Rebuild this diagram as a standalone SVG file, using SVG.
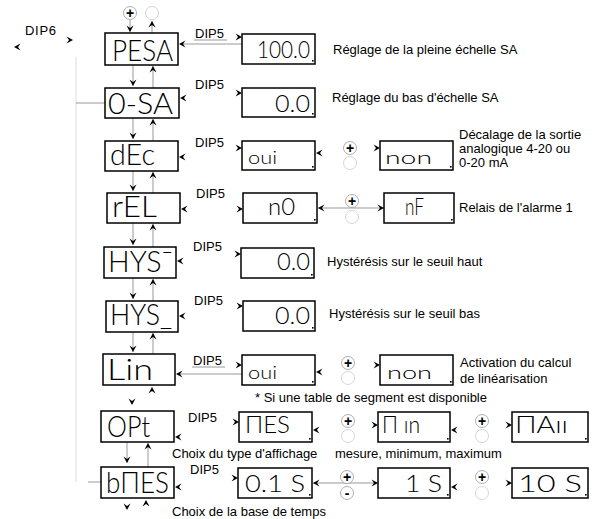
<svg xmlns="http://www.w3.org/2000/svg" xmlns:xlink="http://www.w3.org/1999/xlink" width="595" height="519" viewBox="0 0 595 519">
<style>
.box{fill:#fff;stroke:#000;stroke-width:1.5}
.seg{font-family:Lato,"DejaVu Sans",sans-serif;font-weight:300;fill:#000}
.L{font-size:29px}
.V{font-size:23px}
.v{font-size:17px}
.lbl{font-family:"Liberation Sans",Arial,sans-serif;font-size:13px;fill:#000}
.ln{stroke:#999;stroke-width:1;fill:none}
.fl{stroke:#ddd;stroke-width:1;fill:none}
.pc{fill:#fff;stroke:#999;stroke-width:0.8}
.ec{fill:#fff;stroke:#ccc;stroke-width:0.8}
.sym{font-family:"Liberation Sans",Arial,sans-serif;font-size:14px;font-weight:bold;text-anchor:middle;fill:#000}
.dot{fill:#000}
</style>
<defs>
<path id="ah" d="M0,0 L-6.5,-3.5 L-4,0 L-6.5,3.5 Z" fill="#000"/>
</defs>

<g id="connectors">
<path class="fl" d="M76,57 V482"/>
<path class="ln" d="M76,103 H105" stroke="#bbb"/>
<path class="ln" d="M88,482 H101"/>
<use xlink:href="#ah" transform="translate(14,47) rotate(180)"/>
<use xlink:href="#ah" transform="translate(73,40)"/>
<path class="ln" d="M130,20 V32"/>
<use xlink:href="#ah" transform="translate(130,32) rotate(90)"/>
<path class="ln" d="M152,33 V21"/>
<use xlink:href="#ah" transform="translate(152,21) rotate(-90)"/>
<path class="ln" d="M133,65 V86 M153,88 V66"/>
<use xlink:href="#ah" transform="translate(133,86) rotate(90)"/>
<use xlink:href="#ah" transform="translate(153,66) rotate(-90)"/>
<path class="ln" d="M133,118 V139 M153,141 V119"/>
<use xlink:href="#ah" transform="translate(133,139) rotate(90)"/>
<use xlink:href="#ah" transform="translate(153,119) rotate(-90)"/>
<path class="ln" d="M133,171 V191 M153,193 V172"/>
<use xlink:href="#ah" transform="translate(133,191) rotate(90)"/>
<use xlink:href="#ah" transform="translate(153,172) rotate(-90)"/>
<path class="ln" d="M133,223 V245 M153,247 V224"/>
<use xlink:href="#ah" transform="translate(133,245) rotate(90)"/>
<use xlink:href="#ah" transform="translate(153,224) rotate(-90)"/>
<path class="ln" d="M133,278 V299 M153,301 V279"/>
<use xlink:href="#ah" transform="translate(133,299) rotate(90)"/>
<use xlink:href="#ah" transform="translate(153,279) rotate(-90)"/>
<path class="ln" d="M133,332 V352 M153,354 V333"/>
<use xlink:href="#ah" transform="translate(133,352) rotate(90)"/>
<use xlink:href="#ah" transform="translate(153,333) rotate(-90)"/>
<use xlink:href="#ah" transform="translate(132,405) rotate(90)"/>
<use xlink:href="#ah" transform="translate(152,387) rotate(-90)"/>
<path class="ln" d="M127,442 V463 M148,467 V443"/>
<use xlink:href="#ah" transform="translate(127,463) rotate(90)"/>
<use xlink:href="#ah" transform="translate(148,443) rotate(-90)"/>
<use xlink:href="#ah" transform="translate(127,510) rotate(90)"/>
<use xlink:href="#ah" transform="translate(146,500) rotate(-90)"/>
<path class="ln" d="M180,44 H242 M194,40 H227"/>
<use xlink:href="#ah" transform="translate(179,44) rotate(180)"/>
<use xlink:href="#ah" transform="translate(242,37)"/>
<use xlink:href="#ah" transform="translate(180,98) rotate(180)"/>
<use xlink:href="#ah" transform="translate(242,93)"/>
<use xlink:href="#ah" transform="translate(179,157) rotate(180)"/>
<use xlink:href="#ah" transform="translate(242,148)"/>
<use xlink:href="#ah" transform="translate(181,209) rotate(180)"/>
<use xlink:href="#ah" transform="translate(243,209)"/>
<use xlink:href="#ah" transform="translate(177,261) rotate(180)"/>
<use xlink:href="#ah" transform="translate(241,254)"/>
<use xlink:href="#ah" transform="translate(179,316) rotate(180)"/>
<use xlink:href="#ah" transform="translate(243,306)"/>
<path class="ln" d="M177,374 H242 M192,367 H225"/>
<use xlink:href="#ah" transform="translate(176,374) rotate(180)"/>
<use xlink:href="#ah" transform="translate(242,365)"/>
<use xlink:href="#ah" transform="translate(175,437) rotate(180)"/>
<use xlink:href="#ah" transform="translate(239,422)"/>
<use xlink:href="#ah" transform="translate(175,487) rotate(180)"/>
<use xlink:href="#ah" transform="translate(238,478)"/>
<use xlink:href="#ah" transform="translate(316,153) rotate(180)"/>
<use xlink:href="#ah" transform="translate(380,148)"/>
<path class="ln" d="M318,208 H384"/>
<use xlink:href="#ah" transform="translate(318,208) rotate(180)"/>
<use xlink:href="#ah" transform="translate(384,208)"/>
<use xlink:href="#ah" transform="translate(316,372) rotate(180)"/>
<use xlink:href="#ah" transform="translate(380,365)"/>
<use xlink:href="#ah" transform="translate(313,430) rotate(180)"/>
<use xlink:href="#ah" transform="translate(378,425)"/>
<use xlink:href="#ah" transform="translate(451,430) rotate(180)"/>
<use xlink:href="#ah" transform="translate(512,425)"/>
<path class="ln" d="M313,483 H378"/>
<use xlink:href="#ah" transform="translate(313,483) rotate(180)"/>
<use xlink:href="#ah" transform="translate(378,483)"/>
<use xlink:href="#ah" transform="translate(451,487) rotate(180)"/>
<use xlink:href="#ah" transform="translate(512,483)"/>
</g>

<g id="buttons">
<circle class="pc" cx="130" cy="13" r="6.5"/><text class="sym" x="130" y="18">+</text>
<circle class="ec" cx="152" cy="13" r="6.5"/>
<circle class="pc" cx="350" cy="148" r="6.5"/><text class="sym" x="350" y="153">+</text>
<circle class="ec" cx="350" cy="163" r="6.5"/>
<circle class="ec" cx="352" cy="217" r="6.5"/>
<circle class="pc" cx="352" cy="201" r="6.5"/><text class="sym" x="352" y="206">+</text>
<circle class="pc" cx="348" cy="363" r="6.5"/><text class="sym" x="348" y="368">+</text>
<circle class="ec" cx="348" cy="378" r="6.5"/>
<circle class="pc" cx="348" cy="421" r="6.5"/><text class="sym" x="348" y="426">+</text>
<circle class="ec" cx="348" cy="436" r="6.5"/>
<circle class="pc" cx="482" cy="421" r="6.5"/><text class="sym" x="482" y="426">+</text>
<circle class="ec" cx="482" cy="436" r="6.5"/>
<circle class="pc" cx="347" cy="477" r="6.5"/><text class="sym" x="347" y="482">+</text>
<circle class="pc" cx="347" cy="493" r="6.5"/><text class="sym" x="347" y="498">-</text>
<circle class="pc" cx="482" cy="477" r="6.5"/><text class="sym" x="482" y="482">+</text>
<circle class="ec" cx="482" cy="493" r="6.5"/>
</g>

<g id="labels">
<text class="lbl" x="25" y="35" textLength="31">DIP6</text>
<text class="lbl" x="195" y="38">DIP5</text>
<text class="lbl" x="195" y="89">DIP5</text>
<text class="lbl" x="195" y="147">DIP5</text>
<text class="lbl" x="196" y="198">DIP5</text>
<text class="lbl" x="193" y="251">DIP5</text>
<text class="lbl" x="194" y="305">DIP5</text>
<text class="lbl" x="193" y="365">DIP5</text>
<text class="lbl" x="188" y="422">DIP5</text>
<text class="lbl" x="190" y="474">DIP5</text>
<text class="lbl" x="333" y="54">Réglage de la pleine échelle SA</text>
<text class="lbl" x="332" y="102">Réglage du bas d'échelle SA</text>
<text class="lbl" x="459" y="139">Décalage de la sortie</text>
<text class="lbl" x="459" y="153">analogique 4-20 ou</text>
<text class="lbl" x="459" y="167">0-20 mA</text>
<text class="lbl" x="459" y="212">Relais de l'alarme 1</text>
<text class="lbl" x="327" y="266">Hystérésis sur le seuil haut</text>
<text class="lbl" x="329" y="318">Hystérésis sur le seuil bas</text>
<text class="lbl" x="460" y="367">Activation du calcul</text>
<text class="lbl" x="460" y="383">de linéarisation</text>
<text class="lbl" x="255" y="402">* Si une table de segment est disponible</text>
<text class="lbl" x="172" y="458">Choix du type d'affichage</text>
<text class="lbl" x="335" y="458">mesure, minimum, maximum</text>
<text class="lbl" x="172" y="516">Choix de la base de temps</text>
</g>

<g id="PESA"><rect class="box" x="105" y="33" width="73" height="32"/><text class="seg L" x="112" y="61" textLength="61" lengthAdjust="spacingAndGlyphs">PESA</text></g>
<g id="O-SA"><rect class="box" x="105" y="88" width="74" height="30"/><text class="seg L" x="108" y="114" textLength="65" lengthAdjust="spacingAndGlyphs">0-SA</text></g>
<g id="dEc"><rect class="box" x="105" y="141" width="73" height="30"/><text class="seg L" x="110" y="165" textLength="45" lengthAdjust="spacingAndGlyphs">dEc</text></g>
<g id="rEL"><rect class="box" x="107" y="193" width="73" height="30"/><text class="seg L" x="112" y="217" textLength="45" lengthAdjust="spacingAndGlyphs">rEL</text></g>
<g id="HYS-haut"><rect class="box" x="104" y="247" width="72" height="31"/><text class="seg L" x="108" y="272" textLength="65" lengthAdjust="spacingAndGlyphs">HYS¯</text></g>
<g id="HYS-bas"><rect class="box" x="106" y="301" width="72" height="31"/><text class="seg L" x="110" y="325" textLength="62" lengthAdjust="spacingAndGlyphs">HYS_</text></g>
<g id="Lin"><rect class="box" x="103" y="354" width="72" height="31"/><text class="seg L" x="107" y="380" textLength="46" lengthAdjust="spacingAndGlyphs">Lin</text></g>
<g id="OPt"><rect class="box" x="101" y="411" width="73" height="31"/><text class="seg L" x="107" y="437" textLength="43" lengthAdjust="spacingAndGlyphs">OPt</text></g>
<g id="bMES"><rect class="box" x="101" y="467" width="73" height="31"/><text class="seg L" x="106" y="493" textLength="63" lengthAdjust="spacingAndGlyphs">bΠES</text></g>

<g id="v-1000"><rect class="box" x="242" y="34" width="73" height="30"/><text class="seg V" x="257" y="58" textLength="53" lengthAdjust="spacingAndGlyphs">100.0</text><rect class="dot" x="312" y="60" width="1.6" height="1.6"/></g>
<g id="v-0SA"><rect class="box" x="242" y="88" width="73" height="29"/><text class="seg V" x="275" y="112" textLength="35" lengthAdjust="spacingAndGlyphs">0.0</text><rect class="dot" x="312" y="113" width="1.6" height="1.6"/></g>
<g id="dEc-oui"><rect class="box" x="242" y="141" width="73" height="29"/><text class="seg v" x="248" y="164" textLength="29" lengthAdjust="spacingAndGlyphs">oui</text><rect class="dot" x="312" y="166" width="1.6" height="1.6"/></g>
<g id="dEc-non"><rect class="box" x="380" y="141" width="73" height="29"/><text class="seg v" x="385" y="164" textLength="47" lengthAdjust="spacingAndGlyphs">non</text><rect class="dot" x="450" y="166" width="1.6" height="1.6"/></g>
<g id="rEL-n0"><rect class="box" x="243" y="193" width="74" height="30"/><text class="seg V" x="268" y="215" textLength="27" lengthAdjust="spacingAndGlyphs">n0</text><rect class="dot" x="314" y="219" width="1.6" height="1.6"/></g>
<g id="rEL-nF"><rect class="box" x="384" y="193" width="70" height="30"/><text class="seg V" x="405" y="215" textLength="19" lengthAdjust="spacingAndGlyphs">nF</text><rect class="dot" x="451" y="219" width="1.6" height="1.6"/></g>
<g id="HYS-haut-v"><rect class="box" x="241" y="248" width="73" height="30"/><text class="seg V" x="277" y="270" textLength="33" lengthAdjust="spacingAndGlyphs">0.0</text><rect class="dot" x="311" y="274" width="1.6" height="1.6"/></g>
<g id="HYS-bas-v"><rect class="box" x="243" y="301" width="72" height="30"/><text class="seg V" x="275" y="324" textLength="35" lengthAdjust="spacingAndGlyphs">0.0</text><rect class="dot" x="312" y="327" width="1.6" height="1.6"/></g>
<g id="Lin-oui"><rect class="box" x="242" y="355" width="73" height="30"/><text class="seg v" x="248" y="379" textLength="29" lengthAdjust="spacingAndGlyphs">oui</text><rect class="dot" x="312" y="381" width="1.6" height="1.6"/></g>
<g id="Lin-non"><rect class="box" x="380" y="355" width="73" height="30"/><text class="seg v" x="387" y="379" textLength="45" lengthAdjust="spacingAndGlyphs">non</text><rect class="dot" x="450" y="381" width="1.6" height="1.6"/></g>
<g id="OPt-MES"><rect class="box" x="239" y="412" width="73" height="30"/><text class="seg V" x="245" y="433" textLength="45" lengthAdjust="spacingAndGlyphs">ΠES</text><rect class="dot" x="309" y="438" width="1.6" height="1.6"/></g>
<g id="OPt-Min"><rect class="box" x="378" y="412" width="72" height="30"/><text class="seg V" x="382" y="433" textLength="38" lengthAdjust="spacingAndGlyphs">Π ın</text><rect class="dot" x="447" y="438" width="1.6" height="1.6"/></g>
<g id="OPt-MAx"><rect class="box" x="512" y="412" width="76" height="30"/><text class="seg V" x="515" y="433" textLength="53" lengthAdjust="spacingAndGlyphs">ΠAıı</text><rect class="dot" x="585" y="438" width="1.6" height="1.6"/></g>
<g id="b-01S"><rect class="box" x="238" y="468" width="74" height="30"/><text class="seg V" x="245" y="492" textLength="60" lengthAdjust="spacingAndGlyphs">0.1 S</text><rect class="dot" x="309" y="494" width="1.6" height="1.6"/></g>
<g id="b-1S"><rect class="box" x="378" y="468" width="72" height="30"/><text class="seg V" x="405" y="492" textLength="37" lengthAdjust="spacingAndGlyphs">1 S</text><rect class="dot" x="447" y="494" width="1.6" height="1.6"/></g>
<g id="b-10S"><rect class="box" x="512" y="468" width="76" height="30"/><text class="seg V" x="518" y="492" textLength="64" lengthAdjust="spacingAndGlyphs">10 S</text><rect class="dot" x="585" y="494" width="1.6" height="1.6"/></g>
</svg>
